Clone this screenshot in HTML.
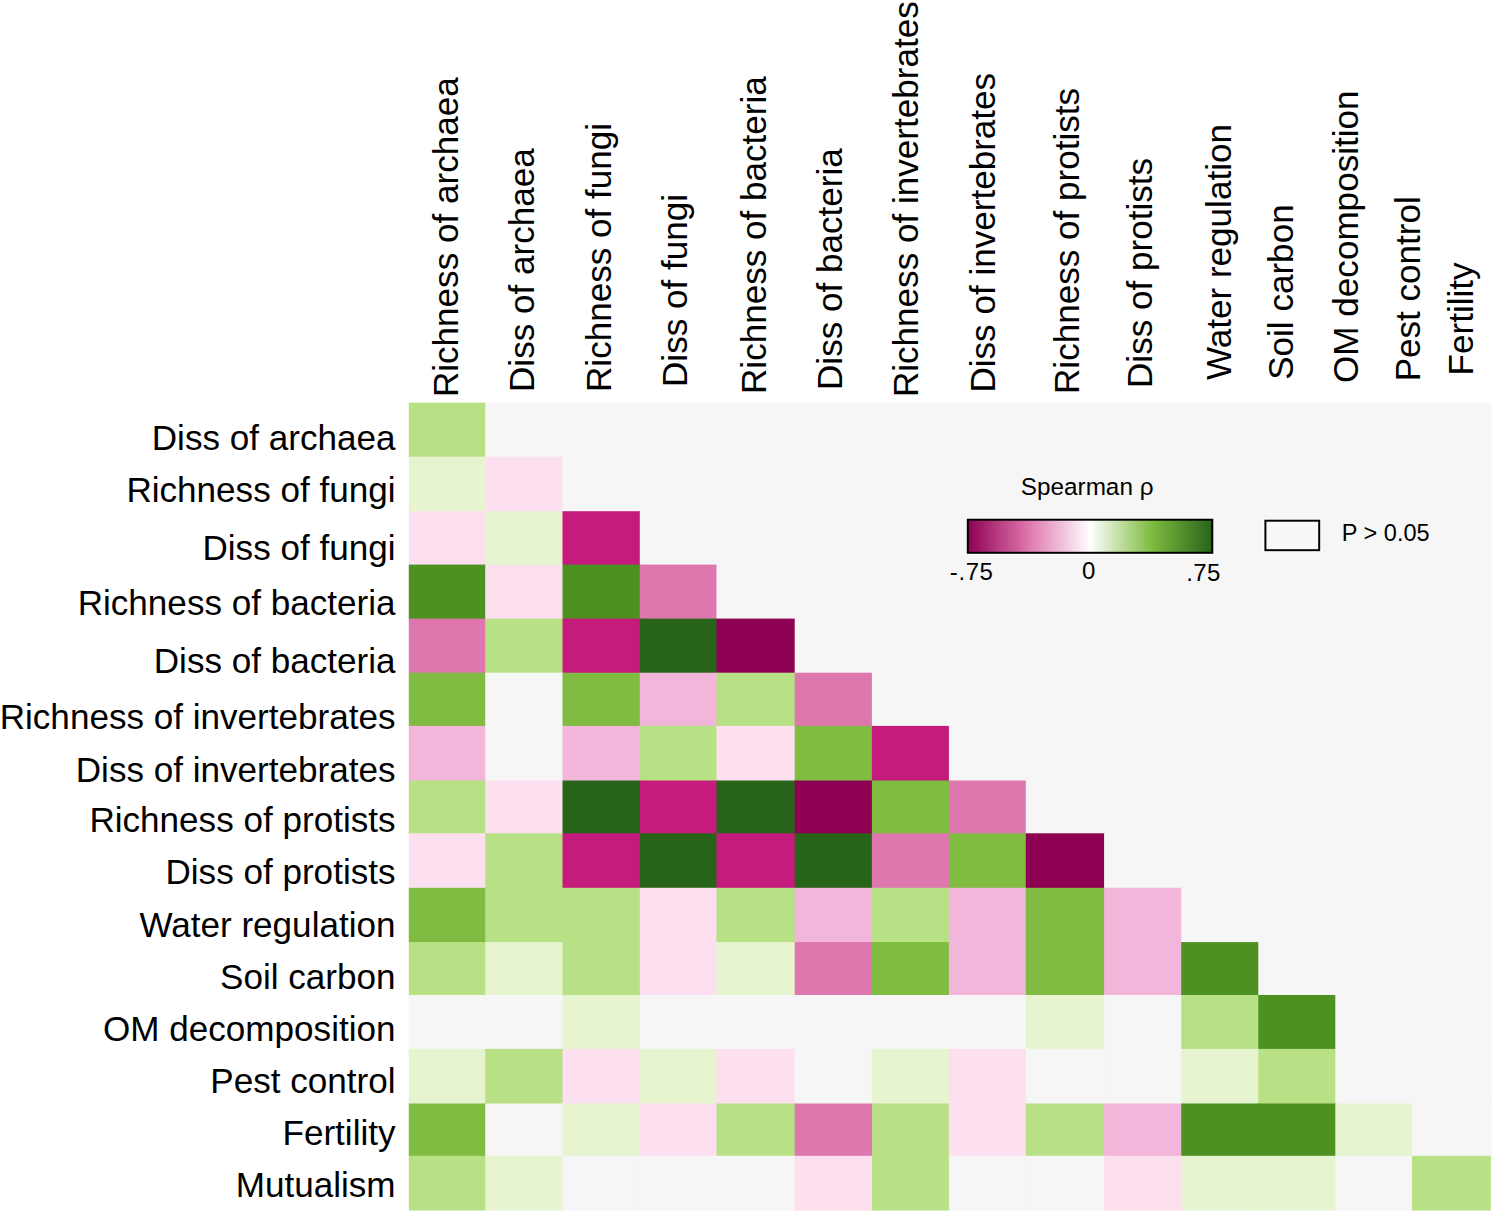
<!DOCTYPE html><html><head><meta charset="utf-8"><style>html,body{margin:0;padding:0;background:#fff;}body{width:1495px;height:1213px;overflow:hidden;}svg{display:block;}text{font-family:"Liberation Sans",sans-serif;fill:#000;}</style></head><body>
<svg width="1495" height="1213" viewBox="0 0 1495 1213">
<defs><linearGradient id="g" x1="0" x2="1" y1="0" y2="0">
<stop offset="0%" stop-color="#8e0152"/>
<stop offset="25%" stop-color="#de77ae"/>
<stop offset="50%" stop-color="#ffffff"/>
<stop offset="75%" stop-color="#7fbc41"/>
<stop offset="100%" stop-color="#276419"/>
</linearGradient></defs>
<rect x="408.8" y="402.7" width="1082.70" height="807.80" fill="#f6f6f6"/>
<rect x="408.80" y="402.70" width="76.40" height="55.00" fill="#b8e186"/>
<rect x="408.80" y="456.70" width="77.40" height="55.50" fill="#e6f5d0"/>
<rect x="485.20" y="456.70" width="77.30" height="55.50" fill="#fde0ef"/>
<rect x="408.80" y="511.20" width="77.40" height="54.40" fill="#fde0ef"/>
<rect x="485.20" y="511.20" width="78.30" height="54.40" fill="#e6f5d0"/>
<rect x="562.50" y="511.20" width="77.30" height="54.40" fill="#c51b7d"/>
<rect x="408.80" y="564.60" width="77.40" height="55.00" fill="#4d9221"/>
<rect x="485.20" y="564.60" width="78.30" height="55.00" fill="#fde0ef"/>
<rect x="562.50" y="564.60" width="78.30" height="55.00" fill="#4d9221"/>
<rect x="639.80" y="564.60" width="76.65" height="55.00" fill="#de77ae"/>
<rect x="408.80" y="618.60" width="77.40" height="55.10" fill="#de77ae"/>
<rect x="485.20" y="618.60" width="78.30" height="55.10" fill="#b8e186"/>
<rect x="562.50" y="618.60" width="78.30" height="55.10" fill="#c51b7d"/>
<rect x="639.80" y="618.60" width="77.65" height="55.10" fill="#276419"/>
<rect x="716.45" y="618.60" width="78.25" height="55.10" fill="#8e0152"/>
<rect x="408.80" y="672.70" width="77.40" height="54.20" fill="#7fbc41"/>
<rect x="485.20" y="672.70" width="78.30" height="54.20" fill="#f6f6f6"/>
<rect x="562.50" y="672.70" width="78.30" height="54.20" fill="#7fbc41"/>
<rect x="639.80" y="672.70" width="77.65" height="54.20" fill="#f1b6da"/>
<rect x="716.45" y="672.70" width="79.25" height="54.20" fill="#b8e186"/>
<rect x="794.70" y="672.70" width="77.20" height="54.20" fill="#de77ae"/>
<rect x="408.80" y="725.90" width="77.40" height="55.60" fill="#f1b6da"/>
<rect x="485.20" y="725.90" width="78.30" height="55.60" fill="#f6f6f6"/>
<rect x="562.50" y="725.90" width="78.30" height="55.60" fill="#f1b6da"/>
<rect x="639.80" y="725.90" width="77.65" height="55.60" fill="#b8e186"/>
<rect x="716.45" y="725.90" width="79.25" height="55.60" fill="#fde0ef"/>
<rect x="794.70" y="725.90" width="78.20" height="55.60" fill="#7fbc41"/>
<rect x="871.90" y="725.90" width="77.00" height="55.60" fill="#c51b7d"/>
<rect x="408.80" y="780.50" width="77.40" height="53.80" fill="#b8e186"/>
<rect x="485.20" y="780.50" width="78.30" height="53.80" fill="#fde0ef"/>
<rect x="562.50" y="780.50" width="78.30" height="53.80" fill="#276419"/>
<rect x="639.80" y="780.50" width="77.65" height="53.80" fill="#c51b7d"/>
<rect x="716.45" y="780.50" width="79.25" height="53.80" fill="#276419"/>
<rect x="794.70" y="780.50" width="78.20" height="53.80" fill="#8e0152"/>
<rect x="871.90" y="780.50" width="78.00" height="53.80" fill="#7fbc41"/>
<rect x="948.90" y="780.50" width="76.90" height="53.80" fill="#de77ae"/>
<rect x="408.80" y="833.30" width="77.40" height="55.50" fill="#fde0ef"/>
<rect x="485.20" y="833.30" width="78.30" height="55.50" fill="#b8e186"/>
<rect x="562.50" y="833.30" width="78.30" height="55.50" fill="#c51b7d"/>
<rect x="639.80" y="833.30" width="77.65" height="55.50" fill="#276419"/>
<rect x="716.45" y="833.30" width="79.25" height="55.50" fill="#c51b7d"/>
<rect x="794.70" y="833.30" width="78.20" height="55.50" fill="#276419"/>
<rect x="871.90" y="833.30" width="78.00" height="55.50" fill="#de77ae"/>
<rect x="948.90" y="833.30" width="77.90" height="55.50" fill="#7fbc41"/>
<rect x="1025.80" y="833.30" width="78.30" height="55.50" fill="#8e0152"/>
<rect x="408.80" y="887.80" width="77.40" height="55.30" fill="#7fbc41"/>
<rect x="485.20" y="887.80" width="78.30" height="55.30" fill="#b8e186"/>
<rect x="562.50" y="887.80" width="78.30" height="55.30" fill="#b8e186"/>
<rect x="639.80" y="887.80" width="77.65" height="55.30" fill="#fde0ef"/>
<rect x="716.45" y="887.80" width="79.25" height="55.30" fill="#b8e186"/>
<rect x="794.70" y="887.80" width="78.20" height="55.30" fill="#f1b6da"/>
<rect x="871.90" y="887.80" width="78.00" height="55.30" fill="#b8e186"/>
<rect x="948.90" y="887.80" width="77.90" height="55.30" fill="#f1b6da"/>
<rect x="1025.80" y="887.80" width="79.30" height="55.30" fill="#7fbc41"/>
<rect x="1104.10" y="887.80" width="77.10" height="55.30" fill="#f1b6da"/>
<rect x="408.80" y="942.10" width="77.40" height="53.90" fill="#b8e186"/>
<rect x="485.20" y="942.10" width="78.30" height="53.90" fill="#e6f5d0"/>
<rect x="562.50" y="942.10" width="78.30" height="53.90" fill="#b8e186"/>
<rect x="639.80" y="942.10" width="77.65" height="53.90" fill="#fde0ef"/>
<rect x="716.45" y="942.10" width="79.25" height="53.90" fill="#e6f5d0"/>
<rect x="794.70" y="942.10" width="78.20" height="53.90" fill="#de77ae"/>
<rect x="871.90" y="942.10" width="78.00" height="53.90" fill="#7fbc41"/>
<rect x="948.90" y="942.10" width="77.90" height="53.90" fill="#f1b6da"/>
<rect x="1025.80" y="942.10" width="79.30" height="53.90" fill="#7fbc41"/>
<rect x="1104.10" y="942.10" width="78.10" height="53.90" fill="#f1b6da"/>
<rect x="1181.20" y="942.10" width="77.10" height="53.90" fill="#4d9221"/>
<rect x="408.80" y="995.00" width="77.40" height="54.90" fill="#f6f6f6"/>
<rect x="485.20" y="995.00" width="78.30" height="54.90" fill="#f6f6f6"/>
<rect x="562.50" y="995.00" width="78.30" height="54.90" fill="#e6f5d0"/>
<rect x="639.80" y="995.00" width="77.65" height="54.90" fill="#f6f6f6"/>
<rect x="716.45" y="995.00" width="79.25" height="54.90" fill="#f6f6f6"/>
<rect x="794.70" y="995.00" width="78.20" height="54.90" fill="#f6f6f6"/>
<rect x="871.90" y="995.00" width="78.00" height="54.90" fill="#f6f6f6"/>
<rect x="948.90" y="995.00" width="77.90" height="54.90" fill="#f6f6f6"/>
<rect x="1025.80" y="995.00" width="79.30" height="54.90" fill="#e6f5d0"/>
<rect x="1104.10" y="995.00" width="78.10" height="54.90" fill="#f6f6f6"/>
<rect x="1181.20" y="995.00" width="78.10" height="54.90" fill="#b8e186"/>
<rect x="1258.30" y="995.00" width="77.00" height="54.90" fill="#4d9221"/>
<rect x="408.80" y="1048.90" width="77.40" height="55.60" fill="#e6f5d0"/>
<rect x="485.20" y="1048.90" width="78.30" height="55.60" fill="#b8e186"/>
<rect x="562.50" y="1048.90" width="78.30" height="55.60" fill="#fde0ef"/>
<rect x="639.80" y="1048.90" width="77.65" height="55.60" fill="#e6f5d0"/>
<rect x="716.45" y="1048.90" width="79.25" height="55.60" fill="#fde0ef"/>
<rect x="794.70" y="1048.90" width="78.20" height="55.60" fill="#f6f6f6"/>
<rect x="871.90" y="1048.90" width="78.00" height="55.60" fill="#e6f5d0"/>
<rect x="948.90" y="1048.90" width="77.90" height="55.60" fill="#fde0ef"/>
<rect x="1025.80" y="1048.90" width="79.30" height="55.60" fill="#f6f6f6"/>
<rect x="1104.10" y="1048.90" width="78.10" height="55.60" fill="#f6f6f6"/>
<rect x="1181.20" y="1048.90" width="78.10" height="55.60" fill="#e6f5d0"/>
<rect x="1258.30" y="1048.90" width="78.00" height="55.60" fill="#b8e186"/>
<rect x="1335.30" y="1048.90" width="76.70" height="55.60" fill="#f6f6f6"/>
<rect x="408.80" y="1103.50" width="77.40" height="53.30" fill="#7fbc41"/>
<rect x="485.20" y="1103.50" width="78.30" height="53.30" fill="#f6f6f6"/>
<rect x="562.50" y="1103.50" width="78.30" height="53.30" fill="#e6f5d0"/>
<rect x="639.80" y="1103.50" width="77.65" height="53.30" fill="#fde0ef"/>
<rect x="716.45" y="1103.50" width="79.25" height="53.30" fill="#b8e186"/>
<rect x="794.70" y="1103.50" width="78.20" height="53.30" fill="#de77ae"/>
<rect x="871.90" y="1103.50" width="78.00" height="53.30" fill="#b8e186"/>
<rect x="948.90" y="1103.50" width="77.90" height="53.30" fill="#fde0ef"/>
<rect x="1025.80" y="1103.50" width="79.30" height="53.30" fill="#b8e186"/>
<rect x="1104.10" y="1103.50" width="78.10" height="53.30" fill="#f1b6da"/>
<rect x="1181.20" y="1103.50" width="78.10" height="53.30" fill="#4d9221"/>
<rect x="1258.30" y="1103.50" width="78.00" height="53.30" fill="#4d9221"/>
<rect x="1335.30" y="1103.50" width="77.70" height="53.30" fill="#e6f5d0"/>
<rect x="1412.00" y="1103.50" width="78.80" height="53.30" fill="#f6f6f6"/>
<rect x="408.80" y="1155.80" width="77.40" height="54.70" fill="#b8e186"/>
<rect x="485.20" y="1155.80" width="78.30" height="54.70" fill="#e6f5d0"/>
<rect x="562.50" y="1155.80" width="78.30" height="54.70" fill="#f6f6f6"/>
<rect x="639.80" y="1155.80" width="77.65" height="54.70" fill="#f6f6f6"/>
<rect x="716.45" y="1155.80" width="79.25" height="54.70" fill="#f6f6f6"/>
<rect x="794.70" y="1155.80" width="78.20" height="54.70" fill="#fde0ef"/>
<rect x="871.90" y="1155.80" width="78.00" height="54.70" fill="#b8e186"/>
<rect x="948.90" y="1155.80" width="77.90" height="54.70" fill="#f6f6f6"/>
<rect x="1025.80" y="1155.80" width="79.30" height="54.70" fill="#f6f6f6"/>
<rect x="1104.10" y="1155.80" width="78.10" height="54.70" fill="#fde0ef"/>
<rect x="1181.20" y="1155.80" width="78.10" height="54.70" fill="#e6f5d0"/>
<rect x="1258.30" y="1155.80" width="78.00" height="54.70" fill="#e6f5d0"/>
<rect x="1335.30" y="1155.80" width="77.70" height="54.70" fill="#f6f6f6"/>
<rect x="1412.00" y="1155.80" width="78.80" height="54.70" fill="#b8e186"/>
<text x="395.50" y="450.30" font-size="35.1" text-anchor="end">Diss of archaea</text>
<text x="395.50" y="502.00" font-size="35.1" text-anchor="end">Richness of fungi</text>
<text x="395.50" y="560.10" font-size="35.1" text-anchor="end">Diss of fungi</text>
<text x="395.50" y="615.30" font-size="35.1" text-anchor="end">Richness of bacteria</text>
<text x="395.50" y="672.90" font-size="35.1" text-anchor="end">Diss of bacteria</text>
<text x="395.50" y="728.50" font-size="35.1" text-anchor="end">Richness of invertebrates</text>
<text x="395.50" y="781.70" font-size="35.1" text-anchor="end">Diss of invertebrates</text>
<text x="395.50" y="832.10" font-size="35.1" text-anchor="end">Richness of protists</text>
<text x="395.50" y="884.20" font-size="35.1" text-anchor="end">Diss of protists</text>
<text x="395.50" y="936.70" font-size="35.1" text-anchor="end">Water regulation</text>
<text x="395.50" y="988.80" font-size="35.1" text-anchor="end">Soil carbon</text>
<text x="395.50" y="1041.10" font-size="35.1" text-anchor="end">OM decomposition</text>
<text x="395.50" y="1093.30" font-size="35.1" text-anchor="end">Pest control</text>
<text x="395.50" y="1145.40" font-size="35.1" text-anchor="end">Fertility</text>
<text x="395.50" y="1197.30" font-size="35.1" text-anchor="end">Mutualism</text>
<text transform="translate(457.60,397.07) rotate(-90)" font-size="35.1">Richness of archaea</text>
<text transform="translate(534.30,391.97) rotate(-90)" font-size="35.1">Diss of archaea</text>
<text transform="translate(611.10,391.97) rotate(-90)" font-size="35.1">Richness of fungi</text>
<text transform="translate(687.40,386.97) rotate(-90)" font-size="35.1">Diss of fungi</text>
<text transform="translate(765.70,393.97) rotate(-90)" font-size="35.1">Richness of bacteria</text>
<text transform="translate(841.90,389.97) rotate(-90)" font-size="35.1">Diss of bacteria</text>
<text transform="translate(918.20,397.07) rotate(-90)" font-size="35.1">Richness of invertebrates</text>
<text transform="translate(995.20,392.57) rotate(-90)" font-size="35.1">Diss of invertebrates</text>
<text transform="translate(1078.70,393.97) rotate(-90)" font-size="35.1">Richness of protists</text>
<text transform="translate(1151.90,387.97) rotate(-90)" font-size="35.1">Diss of protists</text>
<text transform="translate(1230.60,380.08) rotate(-90)" font-size="35.1">Water regulation</text>
<text transform="translate(1293.40,379.85) rotate(-90)" font-size="35.1">Soil carbon</text>
<text transform="translate(1358.10,382.92) rotate(-90)" font-size="35.1">OM decomposition</text>
<text transform="translate(1420.30,381.37) rotate(-90)" font-size="35.1">Pest control</text>
<text transform="translate(1472.50,375.48) rotate(-90)" font-size="35.1">Fertility</text>
<text x="1020.80" y="494.90" font-size="24.3">Spearman ρ</text>
<rect x="965.8" y="517.7" width="248.5" height="37.1" fill="#ffffff"/>
<rect x="967.8" y="519.7" width="244.5" height="33.1" fill="url(#g)" stroke="#000" stroke-width="2"/>
<text x="949.80" y="580.20" font-size="24" letter-spacing="0.6">-.75</text>
<text x="1082.10" y="578.80" font-size="24">0</text>
<text x="1186.30" y="580.50" font-size="24" letter-spacing="0.4">.75</text>
<rect x="1263.4" y="518.7" width="57.8" height="33.5" fill="#ffffff"/>
<rect x="1265.4" y="520.7" width="53.8" height="29.5" fill="#f8f8f8" stroke="#000" stroke-width="2"/>
<text x="1341.80" y="541.10" font-size="23.5">P &gt; 0.05</text>
</svg></body></html>
